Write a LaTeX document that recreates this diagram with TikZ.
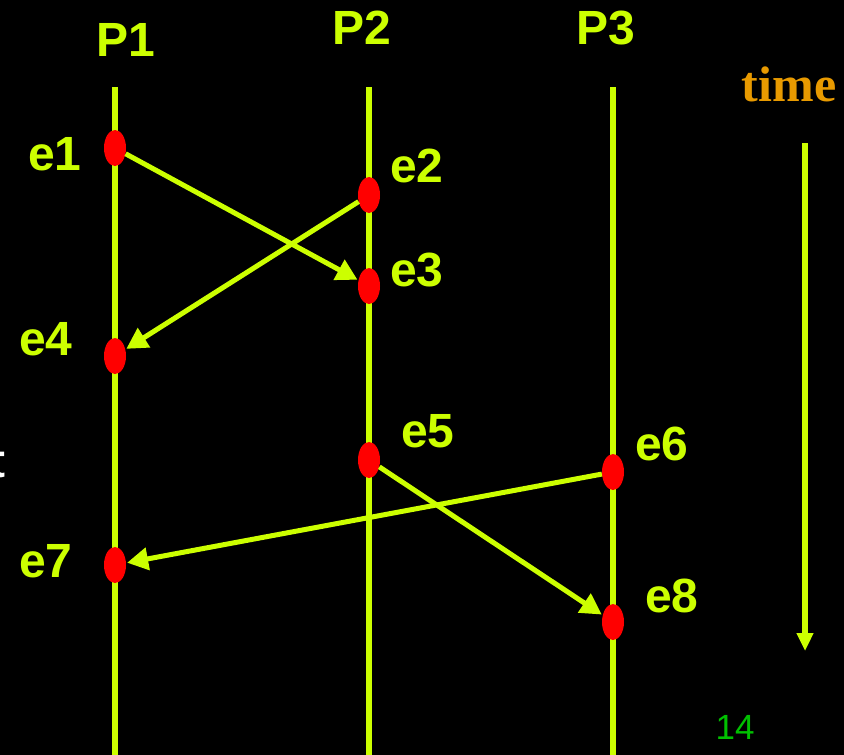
\documentclass[tikz,border=0pt]{standalone}
\usepackage{fontspec}
\usepackage{xcolor}
\usetikzlibrary{arrows.meta,positioning,shapes.geometric}
\newfontfamily\lblfont{Liberation Sans}
\newfontfamily\timefont{Liberation Serif}
\definecolor{lime}{HTML}{CCFF00}
\definecolor{evred}{HTML}{FF0000}
\definecolor{amber}{HTML}{E89A00}
\definecolor{pagegreen}{HTML}{00C000}
\tikzset{
  procline/.style={draw=lime, line width=6pt},
  event/.style={ellipse, fill=evred, inner sep=0pt, minimum width=22pt, minimum height=36pt},
  evlbl/.style={text=lime, font=\lblfont\bfseries\fontsize{48}{50}\selectfont, inner sep=0pt},
  msg/.style={-{Triangle[length=21pt, width=22pt]}, draw=lime, fill=lime, line width=5pt, shorten >=1pt},
  timeflow/.style={-{Triangle[length=18pt, width=16pt]}, draw=lime, fill=lime, line width=5.5pt},
}
\begin{document}
\begin{tikzpicture}[x=1pt, y=-1pt]
\fill[black] (0,0) rectangle (844,755);
\useasboundingbox (0,0) rectangle (844,755);
% processes
\node[evlbl] (p1) at (126,40) {P1};
\node[evlbl] (p2) at (362,28) {P2};
\node[evlbl] (p3) at (606,28) {P3};
\coordinate (p1top) at (115,87);  \coordinate (p1bot) at (115,755);
\coordinate (p2top) at (369,87);  \coordinate (p2bot) at (369,755);
\coordinate (p3top) at (613,87);  \coordinate (p3bot) at (613,755);
\draw[procline] (p1top) -- (p1bot);
\draw[procline] (p2top) -- (p2bot);
\draw[procline] (p3top) -- (p3bot);
% events
\node[event] (e1) at (115,148) {};
\node[event] (e2) at (369,195) {};
\node[event] (e3) at (369,286) {};
\node[event] (e4) at (115,356) {};
\node[event] (e5) at (369,460) {};
\node[event] (e6) at (613,472) {};
\node[event] (e7) at (115,565) {};
\node[event] (e8) at (613,622) {};
\node[evlbl] (l1) at (55,154) {e1};
\node[evlbl] (l2) at (417,166) {e2};
\node[evlbl] (l3) at (417,270) {e3};
\node[evlbl] (l4) at (46,339) {e4};
\node[evlbl] (l5) at (428,431) {e5};
\node[evlbl] (l6) at (662,444) {e6};
\node[evlbl] (l7) at (46,561) {e7};
\node[evlbl] (l8) at (672,596) {e8};
% messages
\draw[msg] (e1) -- (e3);
\draw[msg] (e2) -- (e4);
\draw[msg] (e6) -- (e7);
\draw[msg] (e5) -- (e8);
% time axis
\node[text=amber, font=\timefont\bfseries\fontsize{50}{52}\selectfont, inner sep=0pt] (tlbl) at (789,84) {time};
\coordinate (t1) at (805,143);
\coordinate (t2) at (805,651);
\draw[timeflow] (t1) -- (t2);
\node[text=pagegreen, font=\lblfont\fontsize{35}{37}\selectfont, inner sep=0pt] (pgno) at (735,727) {14};
\node[text=white, font=\lblfont\bfseries\fontsize{48}{50}\selectfont, inner sep=0pt, anchor=east] (cut) at (6,462) {t};
\end{tikzpicture}
\end{document}
